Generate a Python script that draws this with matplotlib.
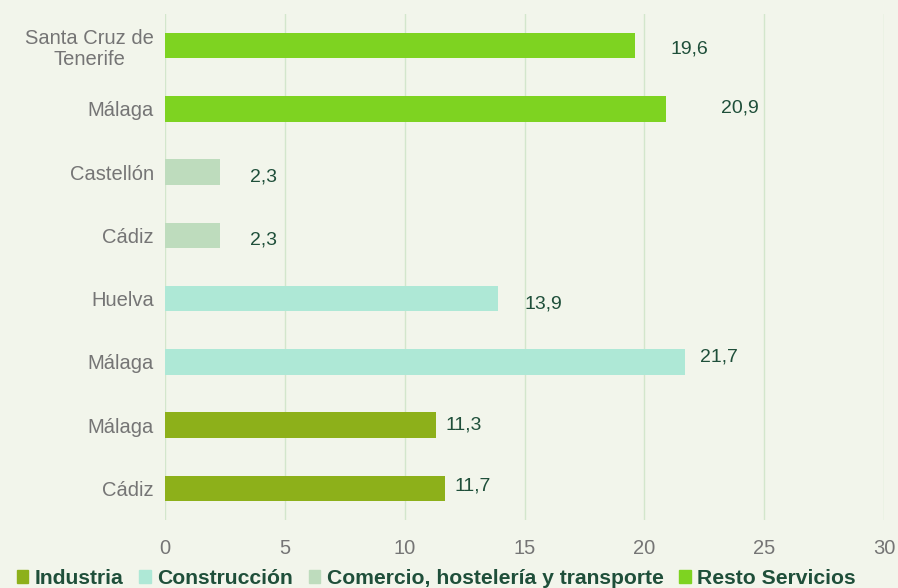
import matplotlib.pyplot as plt
from matplotlib.patches import Patch

plt.rcParams['font.family'] = ['Liberation Sans', 'DejaVu Sans']

# data, top to bottom
labels = ['Santa Cruz de\nTenerife', 'Málaga', 'Castellón', 'Cádiz', 'Huelva', 'Málaga', 'Málaga', 'Cádiz']
values = [19.6, 20.9, 2.3, 2.3, 13.9, 21.7, 11.3, 11.7]
sectors = ['Resto Servicios', 'Resto Servicios', 'Comercio, hostelería y transporte',
           'Comercio, hostelería y transporte', 'Construcción', 'Construcción',
           'Industria', 'Industria']
legend_order = ['Industria', 'Construcción', 'Comercio, hostelería y transporte', 'Resto Servicios']

colors = {'Industria': '#8db01a', 'Construcción': '#aee8d6',
          'Comercio, hostelería y transporte': '#bedcbd', 'Resto Servicios': '#7ed321'}
bg = '#f2f5eb'
txt = '#1f4f3a'

# label placement offsets (x, y) in data units, as in the original
lab_dx = [2.3, 3.1, 1.8, 1.8, 1.9, 1.4, 1.15, 1.15]
lab_dy = [0.05, -0.02, 0.07, 0.07, 0.08, -0.07, 0.0, -0.04]

fig = plt.figure(figsize=(8.98, 5.88), dpi=100, facecolor=bg)
ax = fig.add_axes([165/898, 1 - 520/588, (884 - 165)/898, (520 - 14)/588])
ax.set_facecolor(bg)

ypos = list(range(len(values)))
ax.barh(ypos, values, height=0.4, color=[colors[s] for s in sectors], zorder=2)

for i, v in enumerate(values):
    ax.text(v + lab_dx[i], ypos[i] + lab_dy[i], f'{v:.1f}'.replace('.', ','),
            va='center', ha='center', fontsize=14, color=txt)

ax.set_xlim(0, 30)
ax.set_ylim(len(values) - 0.5, -0.5)
ax.set_xticks(range(0, 31, 5))
ax.set_yticks(ypos)
ax.set_yticklabels(labels, fontsize=14.5, color='#757575', multialignment='center',
                   linespacing=1.15)
ax.tick_params(axis='x', colors='#757575', labelsize=14.5, length=0, pad=14)
ax.tick_params(axis='y', length=0, pad=8)
ax.grid(axis='x', color='#d3e6cc', linewidth=1, zorder=0)
for s in ax.spines.values():
    s.set_visible(False)

handles = [Patch(color=colors[k]) for k in legend_order]
leg = fig.legend(handles, legend_order, loc='lower center', bbox_to_anchor=(0.486, -0.032),
                 ncol=4, frameon=False, handlelength=0.55, handleheight=0.55,
                 handletextpad=0.3, columnspacing=0.75,
                 prop={'weight': 'bold', 'size': 15.2})
for t in leg.get_texts():
    t.set_color(txt)

fig.savefig('out.png', dpi=100, facecolor=bg)
